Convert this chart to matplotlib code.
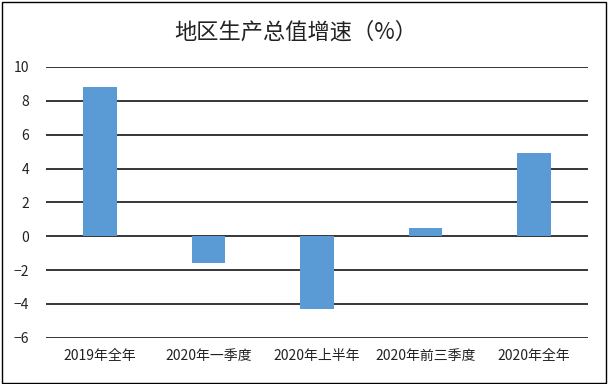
import matplotlib
matplotlib.use('Agg')
import matplotlib.pyplot as plt
from matplotlib.patches import Rectangle

plt.rcParams['font.family'] = ['Noto Sans CJK SC', 'DejaVu Sans']
plt.rcParams['axes.unicode_minus'] = True

categories = ['2019年全年', '2020年一季度', '2020年上半年', '2020年前三季度', '2020年全年']
growth = [8.8, -1.6, -4.3, 0.5, 4.9]
y_ticks = [-6, -4, -2, 0, 2, 4, 6, 8, 10]

W, H = 610, 384
fig = plt.figure(figsize=(W / 100, H / 100), dpi=100)
ax = fig.add_axes([45.75 / W, 1 - 337.7 / H, (588 - 45.75) / W, (337.7 - 67) / H])

x = range(len(categories))
ax.bar(x, growth, width=0.31, color='#5B9BD5', zorder=3)

ax.set_xlim(-0.5, len(categories) - 0.5)
ax.set_ylim(-6, 10)
ax.set_yticks(y_ticks)
ax.yaxis.grid(True, color='black', lw=1.1, zorder=1)
ax.set_axisbelow(True)
for s in ax.spines.values():
    s.set_visible(False)
ax.tick_params(axis='y', length=0, pad=12, labelsize=10, labelcolor='#222')
ax.set_xticks(list(x))
ax.set_xticklabels(categories)
ax.tick_params(axis='x', length=0, pad=8, labelsize=10, labelcolor='#222')

fig.text(296 / W, 1 - 32 / H, '地区生产总值增速（%）', ha='center', va='center',
         fontsize=16, color='#222')

# outer chart frame
fig.patches.append(Rectangle((1.5 / W, 1.5 / H), (606 - 1.5) / W, (382.5 - 1.5) / H,
                             transform=fig.transFigure, fill=False, ec='black', lw=1.0))

fig.savefig('out.png', dpi=100, facecolor='white')
